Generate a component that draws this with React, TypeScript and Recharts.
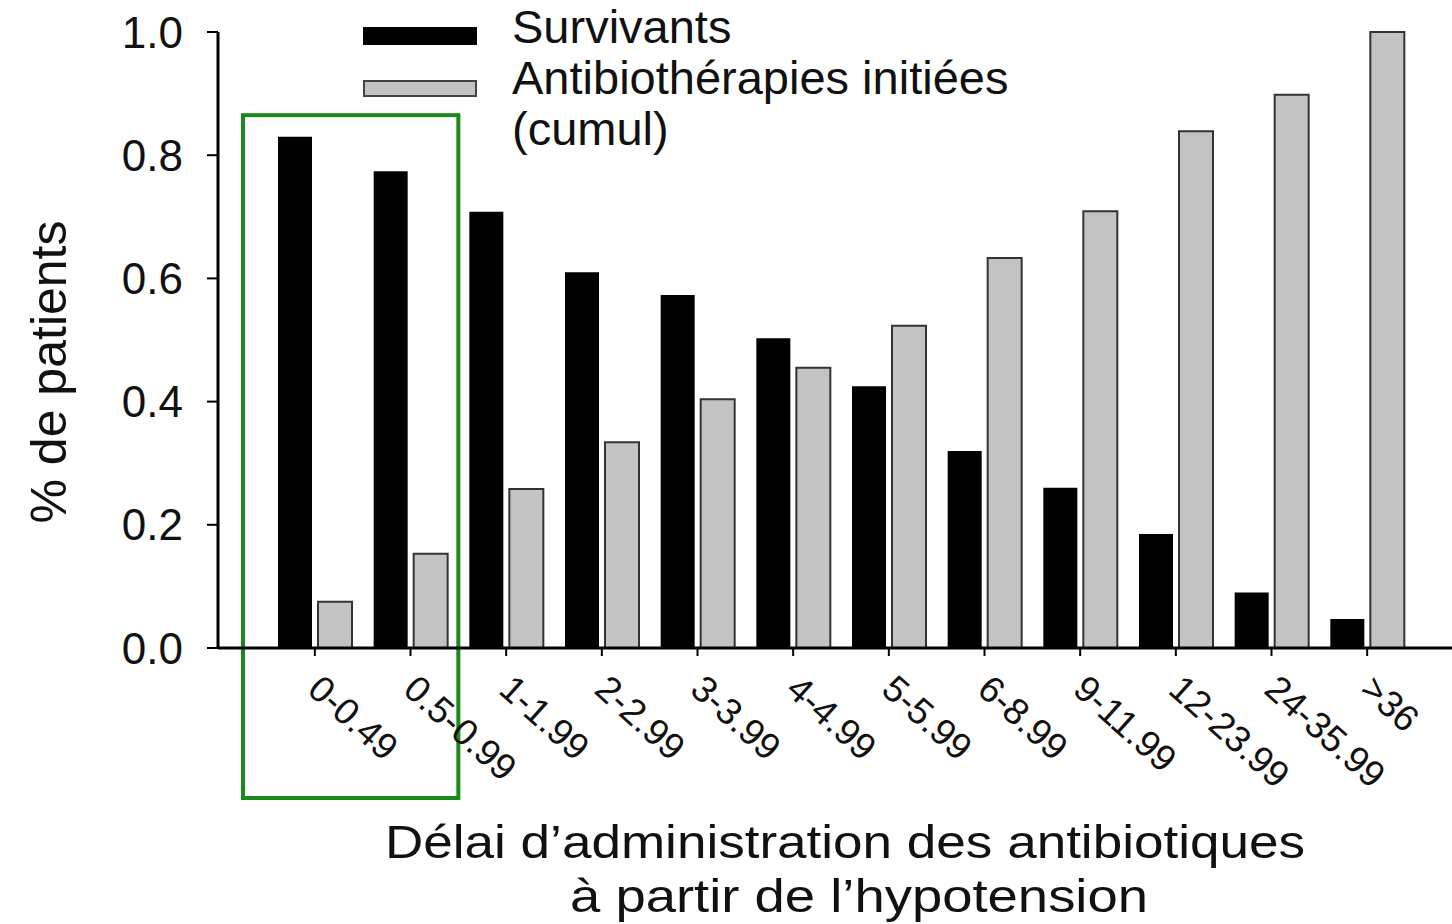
import React from 'react';
import { BarChart, Bar, XAxis, YAxis, Legend, ReferenceArea } from 'recharts';

const FONT = '"Liberation Sans", Arial, Helvetica, sans-serif';

const categories = ['0-0.49', '0.5-0.99', '1-1.99', '2-2.99', '3-3.99', '4-4.99', '5-5.99', '6-8.99', '9-11.99', '12-23.99', '24-35.99', '>36'];
const survivants = [0.83, 0.774, 0.708, 0.61, 0.573, 0.503, 0.425, 0.32, 0.26, 0.185, 0.09, 0.047];
const antibio = [0.075, 0.153, 0.258, 0.334, 0.404, 0.455, 0.523, 0.633, 0.709, 0.839, 0.898, 1.0];
const yTicks = [0, 0.2, 0.4, 0.6, 0.8, 1.0];

const data = categories.map((cat, i) => ({ cat, survivants: survivants[i], antibio: antibio[i] }));

function XTick(props: any) {
  const { x, y, payload } = props;
  return (
    <g transform={`translate(${x - 9},${y + 36})`}>
      <text transform="rotate(42)" textAnchor="start" fontSize={37} fontFamily={FONT} fill="#111">
        {payload.value}
      </text>
    </g>
  );
}

function XTitle(props: any) {
  const vb = props.viewBox;
  const cx = vb.x + vb.width / 2;
  return (
    <g>
      <text
        x={cx + 10}
        y={vb.y + 210}
        textAnchor="middle"
        fontSize={46}
        textLength={920}
        lengthAdjust="spacingAndGlyphs"
        fontFamily={FONT}
        fill="#111"
      >
        Délai d’administration des antibiotiques
      </text>
      <text
        x={cx + 24}
        y={vb.y + 264}
        textAnchor="middle"
        fontSize={46}
        textLength={578}
        lengthAdjust="spacingAndGlyphs"
        fontFamily={FONT}
        fill="#111"
      >
        à partir de l’hypotension
      </text>
    </g>
  );
}

function YTitle(props: any) {
  const vb = props.viewBox;
  const cx = 66;
  const cy = vb.y + vb.height / 2 + 32;
  return (
    <text x={cx} y={cy} transform={`rotate(-90, ${cx}, ${cy})`} textAnchor="middle" fontSize={50} fontFamily={FONT} fill="#111">
      % de patients
    </text>
  );
}

function LegendBox() {
  return (
    <div style={{ position: 'relative', width: 700, height: 160, fontFamily: FONT, fontSize: 47, lineHeight: '51px', color: '#111' }}>
      <div style={{ position: 'absolute', left: 0, top: 27, width: 114, height: 18, background: '#000' }} />
      <div style={{ position: 'absolute', left: 0, top: 80, width: 110, height: 13, background: '#c3c3c3', border: '2px solid #444' }} />
      <div style={{ position: 'absolute', left: 149, top: 1, whiteSpace: 'nowrap' }}>
        <div>Survivants</div>
        <div>Antibiothérapies initiées</div>
        <div>(cumul)</div>
      </div>
    </div>
  );
}

function GreenBox(props: any) {
  const { x, y, width, height } = props;
  return <rect x={x - 24} y={y} width={width + 24} height={height} fill="none" stroke="#1a8a1a" strokeWidth={4} />;
}

export default function App() {
  return (
    <div style={{ position: 'absolute', left: 0, top: 0, width: 1452, height: 924, background: '#fff' }}>
      <BarChart width={1452} height={924} data={data} margin={{ top: 32, right: 0, bottom: 126, left: 0 }} barSize={34} barGap={6}>
        <XAxis
          dataKey="cat"
          height={150}
          padding={{ left: 49, right: 37 }}
          interval={0}
          tick={<XTick />}
          tickSize={8}
          tickMargin={0}
          axisLine={{ stroke: '#000', strokeWidth: 3 }}
          tickLine={{ stroke: '#000', strokeWidth: 2 }}
          label={XTitle}
        />
        <YAxis
          width={218}
          domain={[0, 1]}
          ticks={yTicks}
          tickFormatter={(v: number) => v.toFixed(1)}
          tickSize={11}
          tickMargin={24}
          tick={{ fontSize: 44, fill: '#111', fontFamily: FONT }}
          axisLine={{ stroke: '#000', strokeWidth: 3 }}
          tickLine={{ stroke: '#000', strokeWidth: 2 }}
          label={YTitle}
        />
        <Legend
          layout="vertical"
          align="center"
          verticalAlign="middle"
          content={<LegendBox />}
          wrapperStyle={{ top: 0, left: 363, width: 700, height: 160 }}
        />
        <Bar dataKey="survivants" fill="#000" isAnimationActive={false} />
        <Bar dataKey="antibio" fill="#c3c3c3" stroke="#333" strokeWidth={2} isAnimationActive={false} />
        <ReferenceArea
          x1={categories[0]}
          x2={categories[1]}
          y1={-0.2435}
          y2={0.865}
          ifOverflow="visible"
          shape={<GreenBox />}
        />
      </BarChart>
    </div>
  );
}
